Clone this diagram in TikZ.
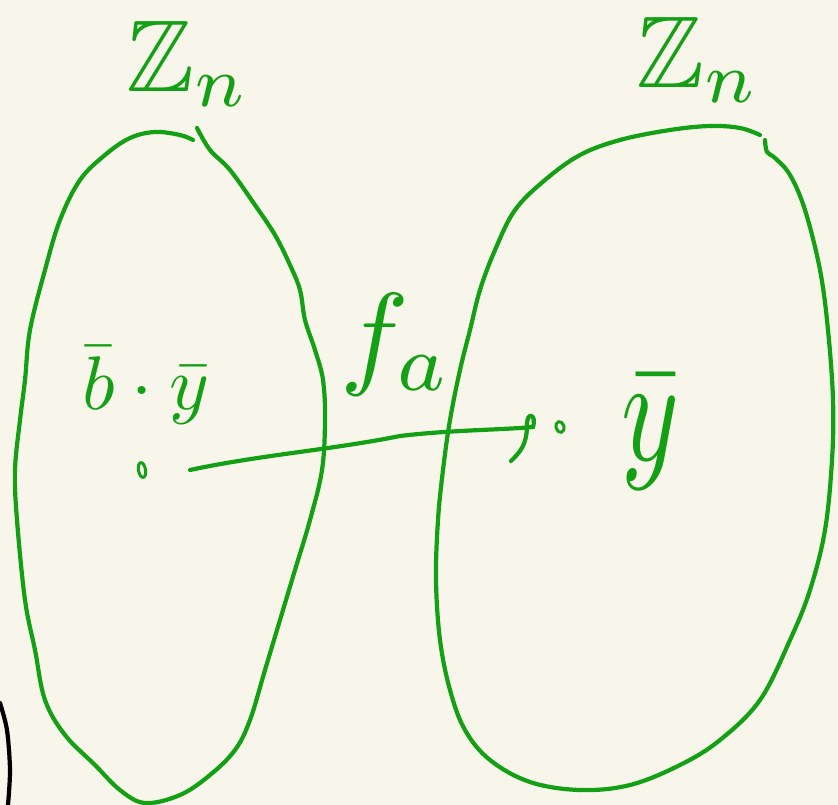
\documentclass[tikz,border=0pt]{standalone}
\usepackage{amssymb}
\usepackage{graphicx}
\usetikzlibrary{shapes.geometric}
\definecolor{bgc}{HTML}{F8F6EA}
\definecolor{pen}{HTML}{14A014}
\tikzset{
  ink/.style={draw=pen, line width=4.2pt, line cap=round, line join=round},
  lbl/.style={text=pen, inner sep=0pt},
}
\begin{document}
\begin{tikzpicture}[x=1pt,y=-1pt]
\fill[bgc] (0,0) rectangle (838,805);
\useasboundingbox (0,0) rectangle (838,805);
% left blob
\draw[ink] plot[smooth, tension=0.6] coordinates {(193,140) (180,135) (155,132) (130,138) (105,155) (80,180) (60,220) (45,270) (30,330) (25,380) (20,420) (15,470) (17,520) (25,600) (35,650) (45,700) (65,735) (95,765) (120,790) (145,803) (180,795) (210,775) (235,750) (250,720) (265,670) (280,620) (295,570) (310,520) (322,470) (325,420) (323,380) (315,350) (305,320) (300,290) (290,265) (275,235) (255,205) (230,170) (210,150) (197,128)};
% right blob
\draw[ink] plot[smooth, tension=0.6] coordinates {(760,135) (740,128) (710,126) (670,130) (620,140) (580,155) (545,180) (515,210) (495,250) (480,290) (470,330) (460,370) (450,420) (443,470) (438,520) (436,580) (440,640) (450,690) (465,730) (490,760) (530,782) (580,790) (630,785) (680,765) (720,740) (760,700) (790,640) (810,590) (825,530) (832,460) (833,400) (828,330) (820,270) (805,210) (790,175) (775,158) (767,152) (765,140)};
% black stroke at lower left
\draw[line width=4.2pt, line cap=round] plot[smooth] coordinates {(0,703) (7,730) (10,770) (8,805)};
% labels
\node[lbl] (zl) at (188,64) {\scalebox{10.2}{$\mathbb{Z}_n$}};
\node[lbl] (zr) at (698,60) {\scalebox{10.2}{$\mathbb{Z}_n$}};
\node[lbl] (by) at (146,385) {\scalebox{7.6}{$\bar{b}\cdot\bar{y}$}};
\node[lbl] (fa) at (396,345) {\scalebox{11.5}{$f_a$}};
\node[lbl] (yr) at (650,432) {\scalebox{11}[15]{$\bar{y}$}};
% points
\node[ink, line width=3pt, ellipse, minimum width=7pt, minimum height=15pt, inner sep=0pt, rotate=10] (pl) at (142,470) {};
\node[ink, line width=3pt, ellipse, minimum width=8pt, minimum height=11pt, inner sep=0pt, rotate=15] (pr) at (560,427) {};
% arrow
\coordinate (a0) at (190,470);
\coordinate (a1) at (533,427);
\draw[ink] (a0) .. controls (260,455) and (330,450) .. (400,436) .. controls (450,430) and (500,430) .. (a1);
\draw[ink] (a1) .. controls (537,415) and (527,410) .. (527,425) .. controls (527,445) and (520,452) .. (511,461);
\end{tikzpicture}
\end{document}
